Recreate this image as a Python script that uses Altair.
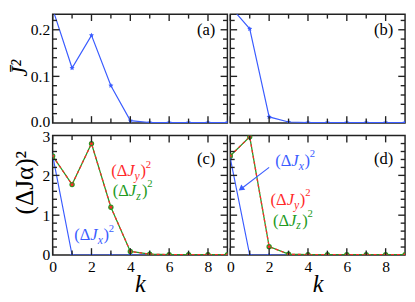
import altair as alt
import pandas as pd

# ---------------- data ----------------
k = list(range(10))
a_vals = [0.245, 0.118, 0.188, 0.080, 0.005, 0.001, 0.0008, 0.0008, 0.0008, 0.0008]
b_vals = [0.250, 0.202, 0.013, 0.002, 0.001, 0.0008, 0.0008, 0.0008, 0.0008, 0.0008]
c_yz = [2.49, 1.77, 2.80, 1.20, 0.09, 0.02, 0.01, 0.01, 0.01, 0.01]
c_x = [2.50, 0.0, 0.0, 0.0, 0.0, 0.0, 0.0, 0.0, 0.0, 0.0]
d_yz = [2.49, 2.97, 0.21, 0.02, 0.01, 0.01, 0.01, 0.01, 0.01, 0.01]
d_x = [2.43, 0.0, 0.0, 0.0, 0.0, 0.0, 0.0, 0.0, 0.0, 0.0]

x_major = [0, 2, 4, 6, 8]
x_minor = [1, 3, 5, 7]
top_labels = [0.0, 0.1, 0.2]
top_major = [0.1, 0.2]
top_minor = [0.02, 0.04, 0.06, 0.08, 0.12, 0.14, 0.16, 0.18, 0.22]
bot_labels = [0, 1, 2, 3]
bot_major = [1, 2]
bot_minor = [0.2, 0.4, 0.6, 0.8, 1.2, 1.4, 1.6, 1.8, 2.2, 2.4, 2.6, 2.8]

# ---------------- style ----------------
BLUE = "#3a5cff"
RED = "#ff2a2a"
GREEN = "#229a22"
FRAME = "#222222"
TICK = "#222222"
SERIF = "Liberation Serif"
W = 180
H_TOP = 112
H_BOT = 123
X_MAX = 9.0
TOP_MAX = H_TOP / 480.0
BOT_MAX = 3.0
STAR = "M0,-1L0.29,-0.4L0.95,-0.31L0.47,0.15L0.59,0.81L0,0.5L-0.59,0.81L-0.47,0.15L-0.95,-0.31L-0.29,-0.4Z"
MAJ, MIN = 7.0, 4.5


def tick_layers(X, Y, xmaj, xmin, ymaj, ymin, H, ymax):
    """Inward ticks on all four sides, drawn as rules through the panel's scales."""
    py = H / ymax
    px = W / X_MAX
    k1, v1, k2, v2 = [], [], [], []
    for vals, L in ((xmaj, MAJ), (xmin, MIN)):
        for t in vals:
            k1 += [float(t), float(t)]
            k2 += [float(t), float(t)]
            v1 += [0.0, ymax]
            v2 += [L / py, ymax - L / py]
    for vals, L in ((ymaj, MAJ), (ymin, MIN)):
        for t in vals:
            k1 += [0.0, X_MAX]
            k2 += [L / px, X_MAX - L / px]
            v1 += [float(t), float(t)]
            v2 += [float(t), float(t)]
    df = pd.DataFrame({"k": k1, "v": v1, "k2": k2, "v2": v2})
    return [alt.Chart(df).mark_rule(color=TICK, strokeWidth=1.4).encode(
        x=X, y=Y, x2="k2:Q", y2="v2:Q")]


def series(X, Y, vals, color, marker):
    df = pd.DataFrame({"k": k, "v": vals})
    line = alt.Chart(df).mark_line(color=color, strokeWidth=1.2, clip=True).encode(x=X, y=Y)
    pts = alt.Chart(df).mark_point(shape=marker, filled=True, size=30, color=color,
                                   opacity=1, clip=True).encode(x=X, y=Y)
    return [line, pts]


def yz_series(X, Y, vals):
    df = pd.DataFrame({"k": k, "v": vals})
    g = alt.Chart(df).mark_line(color=GREEN, strokeWidth=1.3, clip=True).encode(x=X, y=Y)
    r = alt.Chart(df).mark_line(color=RED, strokeWidth=1.3, strokeDash=[3, 3], clip=True).encode(x=X, y=Y)
    gp = alt.Chart(df).mark_point(shape="circle", filled=True, size=30, color=GREEN,
                                  opacity=1, clip=True).encode(x=X, y=Y)
    rp = alt.Chart(df).mark_point(shape=STAR, filled=True, size=22, color=RED,
                                  opacity=1, clip=True).encode(x=X, y=Y)
    return [g, r, gp, rp]


def label_text(X, Y, kx, vy, sub, color):
    parts = [
        ("(Δ ", "normal", 17, "right", -7.5, 0),
        ("J", "italic", 17, "right", 0, 0),
        (sub, "italic", 12, "left", 0, 5),
        (")", "normal", 17, "left", 6, 0),
        ("2", "normal", 11, "left", 11.5, -7),
    ]
    layers = []
    df = pd.DataFrame({"k": [kx], "v": [vy]})
    for txt, style, size, align, dx, dy in parts:
        layers.append(alt.Chart(df).mark_text(
            text=txt, font=SERIF, fontStyle=style, fontSize=size, color=color,
            align=align, baseline="middle", dx=dx, dy=dy).encode(x=X, y=Y))
    return layers


def panel_label(txt, ypix):
    df = pd.DataFrame({"t": [txt]})
    return alt.Chart(df).mark_text(text=txt, font=SERIF, fontSize=17, color="black",
                                   align="center", baseline="middle").encode(
        x=alt.value(W - 22), y=alt.value(ypix))


xscale = alt.Scale(domain=[0, X_MAX], nice=False, zero=False)
top_scale = alt.Scale(domain=[0, TOP_MAX], nice=False, zero=False)
bot_scale = alt.Scale(domain=[0, BOT_MAX], nice=False, zero=False)

ax_common = dict(ticks=False, domain=False, grid=False, labelFont=SERIF,
                 labelFontSize=16, labelColor="black", titleFont=SERIF,
                 titleColor="black")

x_bot_axis = alt.Axis(values=x_major, format="d", labelPadding=4, labelFlush=False,
                      title="k", titleFontStyle="italic", titleFontWeight="normal",
                      titleFontSize=25, titleBaseline="alphabetic", titleY=38,
                      **ax_common)
y_a_axis = alt.Axis(values=top_labels, format=".1f", labelPadding=3,
                    labelOffset={"condition": {"test": "datum.value === 0", "value": -1.5}, "value": 0},
                    title="J̄²", titleFontStyle="italic", titleFontWeight="normal",
                    titleFontSize=23, titleAngle=-90, titleAlign="center",
                    titleBaseline="middle", titleX=-34, titleY=55, **ax_common)
y_c_axis = alt.Axis(values=bot_labels, format="d", labelPadding=3,
                    labelOffset={"condition": {"test": "datum.value === 3", "value": 1.5}, "value": 0},
                    title="(ΔJα)²", titleFontWeight="normal",
                    titleFontSize=26, titleAngle=-90, titleAlign="center",
                    titleBaseline="middle", titleX=-29, titleY=48, **ax_common)

# ---------- panel (a) ----------
Xa = alt.X("k:Q", scale=xscale, axis=None)
Ya = alt.Y("v:Q", scale=top_scale, axis=y_a_axis)
pa = alt.layer(*series(Xa, Ya, a_vals, BLUE, STAR),
               *tick_layers(Xa, Ya, x_major, x_minor, top_major, top_minor, H_TOP, TOP_MAX),
               panel_label("(a)", 16)).properties(width=W, height=H_TOP)

# ---------- panel (b) ----------
Xb = alt.X("k:Q", scale=xscale, axis=None)
Yb = alt.Y("v:Q", scale=top_scale, axis=None)
pb = alt.layer(*series(Xb, Yb, b_vals, BLUE, STAR),
               *tick_layers(Xb, Yb, x_major, x_minor, top_major, top_minor, H_TOP, TOP_MAX),
               panel_label("(b)", 16)).properties(width=W, height=H_TOP)

# ---------- panel (c) ----------
Xc = alt.X("k:Q", scale=xscale, axis=x_bot_axis)
Yc = alt.Y("v:Q", scale=bot_scale, axis=y_c_axis)
pc = alt.layer(*series(Xc, Yc, c_x, BLUE, STAR),
               *yz_series(Xc, Yc, c_yz),
               *tick_layers(Xc, Yc, x_major, x_minor, bot_major, bot_minor, H_BOT, BOT_MAX),
               *label_text(Xc, Yc, 4.22, 2.10, "y", RED),
               *label_text(Xc, Yc, 4.30, 1.61, "z", GREEN),
               *label_text(Xc, Yc, 2.32, 0.49, "x", BLUE),
               panel_label("(c)", 24)).properties(width=W, height=H_BOT)

# ---------- panel (d) ----------
Xd = alt.X("k:Q", scale=xscale, axis=x_bot_axis)
Yd = alt.Y("v:Q", scale=bot_scale, axis=None)
arrow_df = pd.DataFrame({"k": [2.0], "v": [2.2], "k2": [0.58], "v2": [1.67]})
arrow_line = alt.Chart(arrow_df).mark_rule(color=BLUE, strokeWidth=1.1).encode(
    x=Xd, y=Yd, x2="k2:Q", y2="v2:Q")
head_df = pd.DataFrame({"k": [0.55], "v": [1.66]})
arrow_head = alt.Chart(head_df).mark_point(shape="triangle-up", filled=True, size=45,
                                           color=BLUE, opacity=1, angle=233).encode(x=Xd, y=Yd)
pd_ = alt.layer(*series(Xd, Yd, d_x, BLUE, STAR),
                *yz_series(Xd, Yd, d_yz),
                *tick_layers(Xd, Yd, x_major, x_minor, bot_major, bot_minor, H_BOT, BOT_MAX),
                arrow_line, arrow_head,
                *label_text(Xd, Yd, 3.52, 2.36, "x", BLUE),
                *label_text(Xd, Yd, 3.28, 1.38, "y", RED),
                *label_text(Xd, Yd, 3.40, 0.86, "z", GREEN),
                panel_label("(d)", 24)).properties(width=W, height=H_BOT)

chart = alt.concat(pa, pb, pc, pd_, columns=2,
                   spacing={"row": 13, "column": 3}, bounds="flush").properties(
    padding={"left": 0, "top": 0, "right": 0, "bottom": 0}
).configure_view(stroke=FRAME, strokeWidth=1.5)

chart.save("out.html", embed_options={"renderer": "svg", "actions": False})
